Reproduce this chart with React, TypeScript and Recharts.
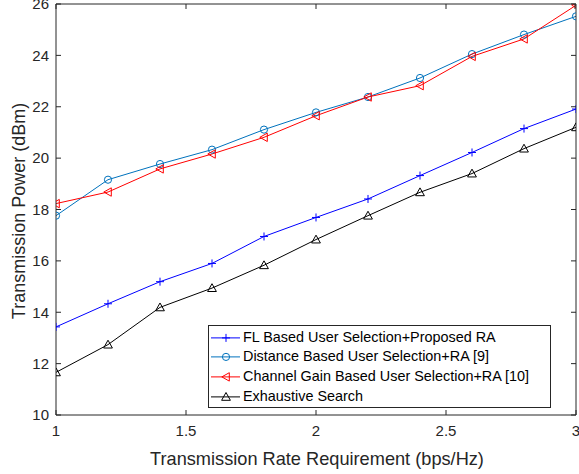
import React from 'react';
import { LineChart, Line, XAxis, YAxis, Legend } from 'recharts';

const rates = [1, 1.2, 1.4, 1.6, 1.8, 2.0, 2.2, 2.4, 2.6, 2.8, 3.0];
const flBased = [13.43, 14.33, 15.19, 15.9, 16.95, 17.69, 18.41, 19.32, 20.22, 21.15, 21.91];
const distanceBased = [17.76, 19.16, 19.77, 20.33, 21.11, 21.78, 22.38, 23.12, 24.05, 24.81, 25.52];
const channelGain = [18.23, 18.68, 19.58, 20.16, 20.81, 21.65, 22.38, 22.82, 23.96, 24.64, 25.95];
const exhaustive = [11.66, 12.74, 14.19, 14.94, 15.83, 16.83, 17.76, 18.67, 19.4, 20.37, 21.2];

const xTicks = [1, 1.5, 2, 2.5, 3];
const yTicks = [10, 12, 14, 16, 18, 20, 22, 24, 26];

const seriesNames = [
  'FL Based User Selection+Proposed RA',
  'Distance Based User Selection+RA [9]',
  'Channel Gain Based User Selection+RA [10]',
  'Exhaustive Search',
];
const seriesKeys = ['fl', 'dist', 'chan', 'exh'];
const seriesColors = ['#0000FF', '#0072BD', '#FF0000', '#000000'];
const seriesMarkers = ['plus', 'circle', 'triLeft', 'triUp'];

const data = rates.map((x, i) => ({
  x,
  fl: flBased[i],
  dist: distanceBased[i],
  chan: channelGain[i],
  exh: exhaustive[i],
}));

const FONT = '"Liberation Sans", Arial, Helvetica, sans-serif';
const AXIS = '#262626';

function Marker({ kind, cx, cy, color }: { kind: string; cx: number; cy: number; color: string }) {
  if (kind === 'plus') {
    return (
      <g stroke={color} strokeWidth={1} fill="none">
        <line x1={cx - 4} y1={cy} x2={cx + 4} y2={cy} />
        <line x1={cx} y1={cy - 4} x2={cx} y2={cy + 4} />
      </g>
    );
  }
  if (kind === 'circle') {
    return <circle cx={cx} cy={cy} r={3.6} stroke={color} strokeWidth={1} fill="none" />;
  }
  if (kind === 'triLeft') {
    const p = `${cx - 4.2},${cy} ${cx + 3.3},${cy - 4.2} ${cx + 3.3},${cy + 4.2}`;
    return <polygon points={p} stroke={color} strokeWidth={1} fill="none" />;
  }
  const p = `${cx},${cy - 4.4} ${cx - 4.4},${cy + 3.4} ${cx + 4.4},${cy + 3.4}`;
  return <polygon points={p} stroke={color} strokeWidth={1} fill="none" />;
}

const makeDot = (kind: string, color: string) => (props: any) => {
  const { cx, cy, index } = props;
  if (cx == null || cy == null) return <g key={`e${index}`} />;
  return <Marker key={`${kind}-${index}`} kind={kind} cx={cx} cy={cy} color={color} />;
};

const fmt = (v: number) => String(v);

const BottomTick = (props: any) => {
  const { x, y, payload } = props;
  return (
    <g>
      <line x1={x} y1={y} x2={x} y2={y - 5} stroke={AXIS} strokeWidth={1} />
      <text x={x} y={y + 10} dy="0.71em" textAnchor="middle" fill={AXIS} fontSize={15} fontFamily={FONT}>
        {fmt(payload.value)}
      </text>
    </g>
  );
};
const TopTick = (props: any) => {
  const { x, y } = props;
  return <line x1={x} y1={y} x2={x} y2={y + 5} stroke={AXIS} strokeWidth={1} />;
};
const LeftTick = (props: any) => {
  const { x, y, payload } = props;
  return (
    <g>
      <line x1={x} y1={y} x2={x + 5} y2={y} stroke={AXIS} strokeWidth={1} />
      <text x={x - 7} y={y} dy="0.355em" textAnchor="end" fill={AXIS} fontSize={15} fontFamily={FONT}>
        {fmt(payload.value)}
      </text>
    </g>
  );
};
const RightTick = (props: any) => {
  const { x, y } = props;
  return <line x1={x} y1={y} x2={x - 5} y2={y} stroke={AXIS} strokeWidth={1} />;
};

const LegendBox = () => (
  <div
    style={{
      border: `1px solid ${AXIS}`,
      background: '#fff',
      paddingTop: 1.5,
      paddingBottom: 0.5,
      paddingRight: 6,
      fontFamily: FONT,
      fontSize: 14.4,
      color: '#000',
      boxSizing: 'border-box',
    }}
  >
    {seriesNames.map((name, i) => (
      <div key={name} style={{ display: 'flex', alignItems: 'center', height: 19.8, whiteSpace: 'nowrap' }}>
        <svg width={33} height={19.8} style={{ display: 'block', flex: 'none' }}>
          <line x1={2} y1={9.9} x2={31} y2={9.9} stroke={seriesColors[i]} strokeWidth={1} />
          <Marker kind={seriesMarkers[i]} cx={17} cy={9.9} color={seriesColors[i]} />
        </svg>
        <span style={{ marginLeft: 1, lineHeight: '19.8px' }}>{name}</span>
      </div>
    ))}
  </div>
);

export default function App() {
  return (
    <div style={{ position: 'absolute', left: 0, top: 0, background: '#fff' }}>
      <LineChart
        width={579}
        height={474}
        data={data}
        margin={{ top: 0, right: 0, left: 0, bottom: 0 }}
        style={{ fontFamily: FONT }}
      >
        <XAxis
          xAxisId="top"
          orientation="top"
          dataKey="x"
          type="number"
          domain={[1, 3]}
          ticks={xTicks}
          height={4}
          tickSize={0}
          tickMargin={0}
          tickLine={false}
          tick={<TopTick />}
          axisLine={{ stroke: AXIS, strokeWidth: 1 }}
          allowDataOverflow
        />
        <XAxis
          dataKey="x"
          type="number"
          domain={[1, 3]}
          ticks={xTicks}
          height={59}
          tickSize={0}
          tickMargin={0}
          tickLine={false}
          tick={<BottomTick />}
          axisLine={{ stroke: AXIS, strokeWidth: 1 }}
          allowDataOverflow
          interval={0}
          label={() => (
            <text x={317} y={465} textAnchor="middle" fill={AXIS} fontSize={18.2} fontFamily={FONT}>
              Transmission Rate Requirement (bps/Hz)
            </text>
          )}
        />
        <YAxis
          type="number"
          domain={[10, 26]}
          ticks={yTicks}
          width={56}
          tickSize={0}
          tickMargin={0}
          tickLine={false}
          tick={<LeftTick />}
          axisLine={{ stroke: AXIS, strokeWidth: 1 }}
          allowDataOverflow
          interval={0}
          label={() => (
            <text
              x={25}
              y={211}
              textAnchor="middle"
              fill={AXIS}
              fontSize={18}
              fontFamily={FONT}
              transform="rotate(-90, 25, 211)"
            >
              Transmission Power (dBm)
            </text>
          )}
        />
        <YAxis
          yAxisId="right"
          orientation="right"
          type="number"
          domain={[10, 26]}
          ticks={yTicks}
          width={3}
          tickSize={0}
          tickMargin={0}
          tickLine={false}
          tick={<RightTick />}
          axisLine={{ stroke: AXIS, strokeWidth: 1 }}
          allowDataOverflow
          interval={0}
        />
        <Legend
          layout="vertical"
          align="center"
          verticalAlign="middle"
          wrapperStyle={{ left: 208, top: 325, width: 343 }}
          content={() => <LegendBox />}
        />
        {seriesKeys.map((k, i) => (
          <Line
            key={k}
            dataKey={k}
            name={seriesNames[i]}
            stroke={seriesColors[i]}
            strokeWidth={1}
            dot={makeDot(seriesMarkers[i], seriesColors[i])}
            activeDot={false}
            isAnimationActive={false}
            type="linear"
          />
        ))}
      </LineChart>
    </div>
  );
}
